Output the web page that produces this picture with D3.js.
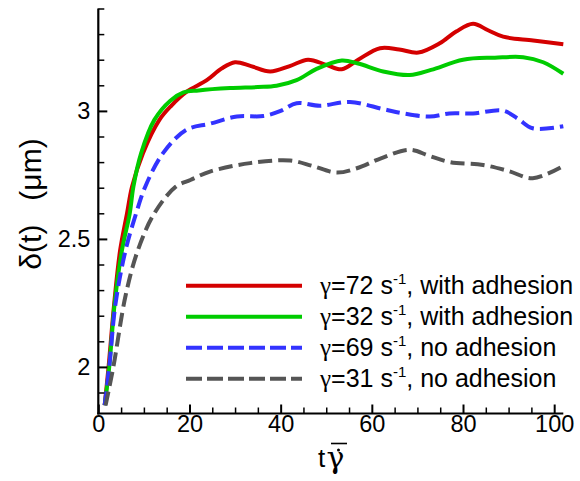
<!DOCTYPE html>
<html><head><meta charset="utf-8">
<script src="https://cdn.jsdelivr.net/npm/d3@7"></script>
<style>
body{margin:0;background:#fff}
svg{display:block}
text{font-family:"Liberation Sans",Arial,Helvetica,sans-serif;fill:#000}
</style>
</head><body>
<svg id="chart" width="580" height="481"></svg>
<script>
// ---------- data ----------
const xTicksMajor = [0, 20, 40, 60, 80, 100];
const xTicksMinor = [5, 10, 15, 25, 30, 35, 45, 50, 55, 65, 70, 75, 85, 90, 95];
const yTicksMajor = [2, 2.5, 3];
const yTicksMinor = [1.9, 2.1, 2.2, 2.3, 2.4, 2.6, 2.7, 2.8, 2.9, 3.1, 3.2, 3.3, 3.4];

const seriesRates = [72, 32, 69, 31];
const seriesSuffix = [", with adhesion", ", with adhesion", ", no adhesion", ", no adhesion"];
const seriesColors = ["#d40000", "#00cc00", "#3333ff", "#555555"];
const seriesDashed = [false, false, true, true];

const red72T = [1.4, 2.25, 3.5, 4.8, 6.3, 7.4, 9.8, 13.4, 16, 19.4, 23.8, 27, 30, 33.5, 37.7, 42, 46, 50, 53.4, 57, 61.8, 66, 70.2, 74.9, 78.5, 82.2, 85.5, 88.8, 95.4, 102];
const red72D = [1.85, 2.0, 2.25, 2.457, 2.60, 2.704, 2.835, 2.965, 3.02, 3.075, 3.12, 3.165, 3.19, 3.175, 3.154, 3.175, 3.20, 3.18, 3.163, 3.20, 3.245, 3.24, 3.228, 3.264, 3.31, 3.34, 3.315, 3.29, 3.275, 3.26];

const green32T = [1.4, 2.4, 3.6, 5.2, 6.9, 7.7, 9.4, 12.3, 15.8, 18.7, 22, 28.9, 35, 39.1, 43.5, 48, 53.4, 57, 62.5, 68.3, 73, 80, 87, 93.2, 97.6, 102];
const green32D = [1.85, 2.0, 2.25, 2.457, 2.60, 2.704, 2.835, 2.965, 3.04, 3.072, 3.08, 3.089, 3.093, 3.098, 3.12, 3.165, 3.197, 3.185, 3.154, 3.14, 3.16, 3.20, 3.208, 3.21, 3.19, 3.145];

const blue69T = [1.4, 2.4, 3.8, 6.0, 8.3, 10.3, 14.2, 19.3, 24.5, 30.4, 36.2, 40, 43.5, 48.6, 55.2, 62.5, 67, 72.7, 77, 82.2, 88.8, 92, 95.3, 102];
const blue69D = [1.85, 2.0, 2.25, 2.457, 2.60, 2.704, 2.835, 2.926, 2.95, 2.978, 2.98, 3.0, 3.03, 3.02, 3.035, 3.007, 2.99, 2.978, 2.99, 2.99, 3.001, 2.97, 2.932, 2.94];

const gray31T = [1.6, 3.3, 6.0, 8.7, 12.3, 17, 20.2, 24.5, 33.3, 42.1, 47, 52.3, 56.7, 62, 68.3, 72.5, 77.1, 84.4, 90, 95.3, 102];
const gray31D = [1.85, 2.0, 2.28, 2.457, 2.60, 2.704, 2.73, 2.763, 2.796, 2.806, 2.785, 2.759, 2.776, 2.815, 2.848, 2.825, 2.80, 2.789, 2.765, 2.737, 2.785];

const seriesT = [red72T, green32T, blue69T, gray31T];
const seriesD = [red72D, green32D, blue69D, gray31D];

// ---------- layout ----------
const svg = d3.select("#chart");
const X0 = 98.3, X1 = 563.3, Y0 = 413.5, Y1 = 8.5;
const x = d3.scaleLinear().domain([0, 102]).range([X0, X1]);
const y = d3.scaleLinear().domain([1.818, 3.4]).range([Y0, Y1]);

// curves
const line = d3.line().x(d => x(d[0])).y(d => y(d[1])).curve(d3.curveCatmullRom.alpha(0.5));
const plot = svg.append("g");
seriesT.forEach((ts, i) => {
  const pts = ts.map((t, j) => [t, seriesD[i][j]]);
  plot.append("path").datum(pts)
    .attr("d", line)
    .attr("fill", "none")
    .attr("stroke", seriesColors[i])
    .attr("stroke-width", 4)
    .attr("stroke-linejoin", "round")
    .attr("stroke-dasharray", seriesDashed[i] ? "14,6" : null);
});

// axes
function styleAxis(g, w) {
  g.select(".domain").remove();
  g.selectAll(".tick line").attr("stroke", "#000").attr("stroke-width", w);
  g.selectAll(".tick text").attr("font-size", 23.5).attr("fill", "#000");
}
const gxMinor = svg.append("g").attr("transform", `translate(0,${Y0})`)
  .call(d3.axisBottom(x).tickValues(xTicksMinor).tickSize(-6).tickFormat(""));
styleAxis(gxMinor, 1.5);
const gx = svg.append("g").attr("transform", `translate(0,${Y0})`)
  .call(d3.axisBottom(x).tickValues(xTicksMajor).tickSize(-9).tickPadding(2).tickFormat(d => String(d)));
styleAxis(gx, 2);

const gyMinor = svg.append("g").attr("transform", `translate(${X0},0)`)
  .call(d3.axisLeft(y).tickValues(yTicksMinor).tickSize(-6).tickFormat(""));
styleAxis(gyMinor, 1.5);
const gy = svg.append("g").attr("transform", `translate(${X0},0)`)
  .call(d3.axisLeft(y).tickValues(yTicksMajor).tickSize(-9).tickPadding(8).tickFormat(d => String(d)));
styleAxis(gy, 2);

svg.append("line").attr("x1", X0).attr("x2", X0).attr("y1", Y1).attr("y2", Y0 + 1)
  .attr("stroke", "#000").attr("stroke-width", 2.2);
svg.append("line").attr("x1", X0 - 1).attr("x2", X1).attr("y1", Y0).attr("y2", Y0)
  .attr("stroke", "#000").attr("stroke-width", 2.2);

// y label
const yl = svg.append("text").attr("transform", "translate(41,204) rotate(-90)")
  .attr("text-anchor", "middle").attr("font-size", 30);
yl.append("tspan").text("δ(t)");
yl.append("tspan").attr("dx", 24).text("(μm)");

// x label
svg.append("text").attr("x", 318).attr("y", 467).attr("font-size", 26).text("t");
svg.append("text").attr("x", 326.5).attr("y", 468).attr("font-size", 30)
  .style("font-family", "DejaVu Serif, serif").text("γ");
svg.append("line").attr("x1", 331).attr("x2", 347).attr("y1", 443.5).attr("y2", 443.5)
  .attr("stroke", "#000").attr("stroke-width", 1.6);
svg.append("circle").attr("cx", 338.5).attr("cy", 450).attr("r", 1.5).attr("fill", "#000");

// legend
const legY0 = 285.7, legDY = 31;
const leg = svg.append("g");
seriesRates.forEach((r, i) => {
  const yy = legY0 + i * legDY;
  leg.append("line").attr("x1", 186).attr("x2", 302).attr("y1", yy).attr("y2", yy)
    .attr("stroke", seriesColors[i]).attr("stroke-width", 4)
    .attr("stroke-dasharray", seriesDashed[i] ? "16,5" : null);
  const t = leg.append("text").attr("x", 320).attr("y", yy + 8.5).attr("font-size", 25);
  t.append("tspan").style("font-family", "Liberation Serif, serif").attr("font-size", 25).text("γ");
  t.append("tspan").text("=" + r + " s");
  t.append("tspan").attr("font-size", 15).attr("dy", -10).text("-1");
  t.append("tspan").attr("dy", 10).text(seriesSuffix[i]);
});
</script>
</body></html>
